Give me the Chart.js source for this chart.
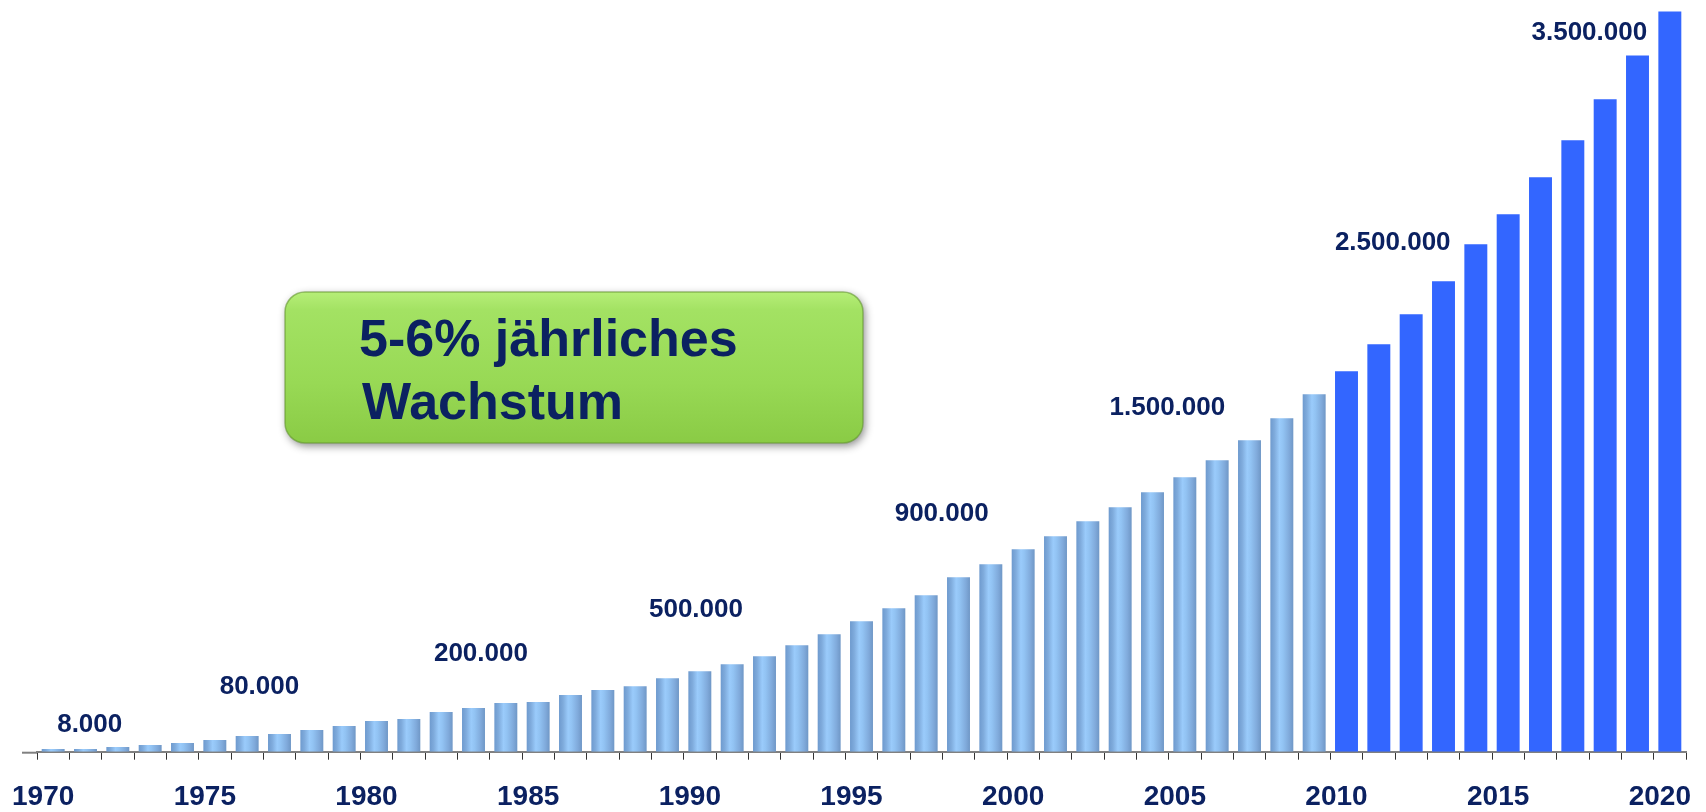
<!DOCTYPE html>
<html>
<head>
<meta charset="utf-8">
<script src="https://cdn.jsdelivr.net/npm/chart.js@4/dist/chart.umd.min.js"></script>
<style>
  html, body { margin: 0; padding: 0; background: #ffffff; }
  #wrap { width: 1706px; height: 812px; }
</style>
</head>
<body>
<div id="wrap"><canvas id="c" width="1706" height="812"></canvas></div>
<script>
// ---------- DATA ----------
const years = [];
for (let y = 1970; y <= 2020; y++) years.push(y);

// values in thousands
const historicValues = [
  13, 13, 23, 33, 43, 58, 78, 88, 108, 128,
  153, 163, 198, 218, 243, 248, 283, 308, 328, 368,
  403, 438, 478, 533, 588, 653, 718, 783, 873, 938,
  1013, 1078, 1153, 1223, 1298, 1373, 1458, 1558, 1668, 1788
];
const forecastValues = [1903, 2038, 2188, 2353, 2538, 2688, 2873, 3058, 3263, 3483, 3703];

const calloutTexts  = ["8.000", "80.000", "200.000", "500.000", "900.000", "1.500.000", "2.500.000", "3.500.000"];
const calloutYears  = [1971.13, 1976.38, 1983.23, 1989.88, 1997.48, 2004.46, 2011.43, 2017.51];
const calloutValues = [133, 325, 492, 710, 1188, 1722, 2546, 3595];

const boxLines = ["5-6% jährliches", "Wachstum"];

// ---------- BUILD ----------
const historicData = years.map((y, i) => i < historicValues.length ? historicValues[i] : null);
const forecastData = years.map((y, i) => i >= historicValues.length ? forecastValues[i - historicValues.length] : null);

const TEXT = '#0b2161';
const FONT = '"Liberation Sans", Arial, sans-serif';
const BAR_PCT = 0.71;

function lightBarFill(ctx) {
  const chart = ctx.chart;
  if (!chart.chartArea || ctx.dataIndex === undefined) return '#8fbde9';
  const xs = chart.scales.x;
  const x = xs.getPixelForValue(ctx.dataIndex);
  const w = (xs.width / years.length) * BAR_PCT;
  const g = chart.ctx.createLinearGradient(x - w / 2, 0, x + w / 2, 0);
  g.addColorStop(0, '#6e9ace');
  g.addColorStop(0.18, '#7fabdc');
  g.addColorStop(0.4, '#9acbfb');
  g.addColorStop(0.55, '#92c3f3');
  g.addColorStop(0.82, '#80aadb');
  g.addColorStop(1, '#6f97c6');
  return g;
}

const overlayPlugin = {
  id: 'overlay',
  beforeDatasetsDraw(chart) {
    const c = chart.ctx;
    const area = chart.chartArea;
    // axis line extension to the left
    c.save();
    c.strokeStyle = '#808080';
    c.lineWidth = 2;
    c.beginPath();
    c.moveTo(22, area.bottom + 1);
    c.lineTo(area.left, area.bottom + 1);
    c.stroke();
    c.restore();
  },
  afterDatasetsDraw(chart) {
    const c = chart.ctx;
    const xs = chart.scales.x, ys = chart.scales.y;
    c.save();
    c.fillStyle = TEXT;
    c.font = 'bold 26px ' + FONT;
    c.textAlign = 'center';
    c.textBaseline = 'middle';
    for (let i = 0; i < calloutTexts.length; i++) {
      const px = xs.getPixelForValue(calloutYears[i] - years[0]);
      const py = ys.getPixelForValue(calloutValues[i]);
      c.fillText(calloutTexts[i], px, py);
    }
    c.restore();

    // green callout box
    const bx = 285, by = 292, bw = 578, bh = 151, r = 20;
    c.save();
    c.shadowColor = 'rgba(0,0,0,0.45)';
    c.shadowBlur = 8;
    c.shadowOffsetX = 2;
    c.shadowOffsetY = 3;
    const g = c.createLinearGradient(0, by, 0, by + bh);
    g.addColorStop(0, '#b6ee78');
    g.addColorStop(0.12, '#a3e263');
    g.addColorStop(0.6, '#98d955');
    g.addColorStop(1, '#8acb45');
    c.fillStyle = g;
    c.beginPath();
    c.roundRect(bx, by, bw, bh, r);
    c.fill();
    c.restore();
    c.save();
    c.strokeStyle = 'rgba(100,150,50,0.6)';
    c.lineWidth = 1.5;
    c.beginPath();
    c.roundRect(bx, by, bw, bh, r);
    c.stroke();
    c.fillStyle = TEXT;
    c.font = 'bold 52px ' + FONT;
    c.textAlign = 'left';
    c.textBaseline = 'alphabetic';
    c.fillText(boxLines[0], 359, 356);
    c.fillText(boxLines[1], 362, 419);
    c.restore();
  }
};

new Chart(document.getElementById('c'), {
  type: 'bar',
  data: {
    labels: years,
    datasets: [
      { data: historicData, backgroundColor: lightBarFill, borderWidth: 0, categoryPercentage: 1, barPercentage: BAR_PCT, grouped: false },
      { data: forecastData, backgroundColor: '#3366ff', borderWidth: 0, categoryPercentage: 1, barPercentage: BAR_PCT, grouped: false }
    ]
  },
  options: {
    responsive: false,
    animation: false,
    devicePixelRatio: 1,
    layout: { padding: { left: 37, right: 20, top: 0, bottom: 0 } },
    plugins: { legend: { display: false }, tooltip: { enabled: false } },
    scales: {
      x: {
        offset: true,
        grid: { offset: true, drawOnChartArea: false, drawTicks: true, tickLength: 8, color: '#333333', lineWidth: 1 },
        border: { display: true, color: '#808080', width: 2 },
        ticks: {
          autoSkip: false, maxRotation: 0, minRotation: 0,
          padding: 21, labelOffset: -10,
          color: TEXT,
          font: { family: FONT, size: 28, weight: 'bold' },
          callback: function (val, i) { return years[i] % 5 === 0 ? String(years[i]) : ''; }
        },
        afterFit: function (axis) { axis.height = 60.3; axis.paddingLeft = 0; axis.paddingRight = 0; }
      },
      y: { display: false, min: 0, max: 3760 }
    }
  },
  plugins: [overlayPlugin]
});
</script>
</body>
</html>
